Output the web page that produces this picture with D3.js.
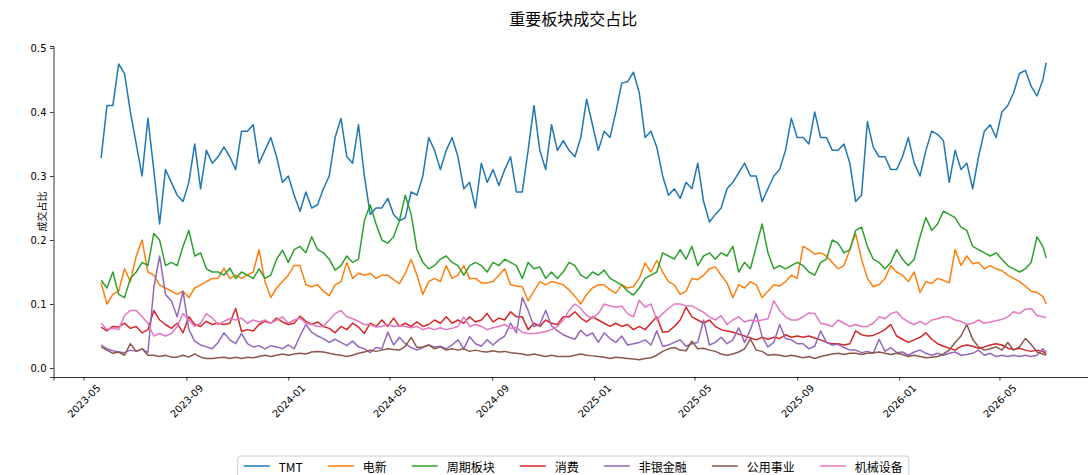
<!DOCTYPE html>
<html>
<head>
<meta charset="utf-8">
<script src="https://cdn.jsdelivr.net/npm/d3@7"></script>
<style>
  body { margin: 0; background: #fff; }
  text { font-family: "Noto Sans CJK SC", "DejaVu Sans", sans-serif; fill: #000; }
  .tick text { font-family: "DejaVu Sans", sans-serif; }
</style>
</head>
<body>
<div id="div_canvas"></div>
<script>
// weekly samples, 2023-05-22 .. 2026-06-26
var startDate = new Date(2023, 4, 22);
var lastDate = new Date(2026, 5, 26);

var names = ["TMT", "电新", "周期板块", "消费", "非银金融", "公用事业", "机械设备"];
var colors = ["#1f77b4", "#ff7f0e", "#2ca02c", "#d62728", "#9467bd", "#8c564b", "#e377c2"];

var tmt = [0.328,0.41,0.41,0.475,0.46,0.40,0.35,0.30,0.39,0.31,
  0.225,0.31,0.29,0.27,0.26,0.29,0.35,0.28,0.34,0.32,
  0.33,0.345,0.33,0.31,0.37,0.37,0.38,0.32,0.34,0.36,
  0.33,0.29,0.30,0.27,0.245,0.275,0.25,0.255,0.28,0.30,
  0.36,0.39,0.33,0.32,0.38,0.30,0.24,0.25,0.25,0.265,
  0.24,0.23,0.235,0.275,0.27,0.30,0.36,0.34,0.31,0.34,
  0.36,0.33,0.28,0.29,0.25,0.32,0.29,0.31,0.285,0.31,
  0.33,0.275,0.275,0.34,0.41,0.34,0.31,0.38,0.34,0.355,
  0.34,0.33,0.36,0.42,0.38,0.34,0.37,0.36,0.40,0.445,
  0.447,0.462,0.43,0.36,0.37,0.345,0.30,0.27,0.28,0.265,
  0.29,0.28,0.32,0.26,0.228,0.24,0.25,0.28,0.29,0.305,
  0.32,0.30,0.30,0.26,0.28,0.30,0.31,0.34,0.39,0.36,
  0.36,0.35,0.40,0.36,0.36,0.34,0.34,0.35,0.32,0.26,
  0.27,0.385,0.345,0.33,0.33,0.31,0.31,0.33,0.36,0.32,
  0.30,0.34,0.37,0.365,0.355,0.29,0.34,0.31,0.32,0.28,
  0.33,0.37,0.38,0.36,0.40,0.41,0.43,0.46,0.465,0.44,
  0.425,0.45,0.477];

var dianxin = [0.133,0.10,0.115,0.12,0.155,0.135,0.175,0.2,0.15,0.145,
  0.13,0.125,0.12,0.115,0.12,0.11,0.125,0.13,0.135,0.14,
  0.14,0.156,0.14,0.145,0.14,0.145,0.15,0.185,0.135,0.11,
  0.125,0.135,0.145,0.16,0.16,0.13,0.127,0.13,0.12,0.113,
  0.13,0.135,0.165,0.14,0.148,0.145,0.148,0.14,0.145,0.145,
  0.138,0.132,0.148,0.17,0.145,0.115,0.135,0.14,0.135,0.16,
  0.14,0.145,0.16,0.14,0.14,0.133,0.133,0.135,0.145,0.155,
  0.13,0.128,0.127,0.105,0.12,0.135,0.13,0.135,0.133,0.13,
  0.122,0.112,0.10,0.115,0.125,0.13,0.13,0.122,0.117,0.13,
  0.125,0.127,0.14,0.164,0.15,0.168,0.15,0.135,0.13,0.115,
  0.12,0.14,0.138,0.145,0.155,0.158,0.145,0.133,0.11,0.13,
  0.125,0.135,0.13,0.11,0.12,0.13,0.128,0.135,0.145,0.14,
  0.19,0.185,0.178,0.18,0.175,0.165,0.155,0.16,0.185,0.21,
  0.17,0.14,0.127,0.13,0.14,0.16,0.15,0.145,0.135,0.15,
  0.118,0.135,0.132,0.14,0.137,0.133,0.185,0.16,0.175,0.163,
  0.165,0.155,0.16,0.155,0.152,0.145,0.14,0.135,0.128,0.12,
  0.118,0.112,0.10];

var zhouqi = [0.137,0.125,0.15,0.115,0.11,0.14,0.15,0.165,0.16,0.21,
  0.20,0.16,0.165,0.16,0.19,0.215,0.175,0.18,0.155,0.15,
  0.15,0.145,0.156,0.14,0.15,0.145,0.14,0.155,0.14,0.145,
  0.17,0.184,0.165,0.185,0.19,0.18,0.205,0.185,0.18,0.17,
  0.153,0.16,0.175,0.165,0.17,0.23,0.255,0.225,0.2,0.195,
  0.205,0.23,0.27,0.24,0.185,0.165,0.155,0.16,0.17,0.175,
  0.165,0.16,0.145,0.16,0.165,0.16,0.15,0.165,0.16,0.17,
  0.165,0.16,0.14,0.165,0.155,0.158,0.14,0.15,0.14,0.15,
  0.165,0.16,0.145,0.14,0.15,0.145,0.153,0.14,0.135,0.13,
  0.12,0.114,0.125,0.14,0.145,0.15,0.18,0.175,0.17,0.185,
  0.17,0.19,0.16,0.175,0.18,0.17,0.18,0.175,0.19,0.15,
  0.165,0.155,0.19,0.225,0.18,0.155,0.16,0.155,0.16,0.165,
  0.16,0.15,0.145,0.165,0.17,0.2,0.195,0.18,0.185,0.215,
  0.22,0.19,0.17,0.165,0.155,0.165,0.185,0.17,0.16,0.17,
  0.205,0.235,0.215,0.225,0.245,0.24,0.235,0.22,0.215,0.19,
  0.185,0.18,0.175,0.18,0.17,0.16,0.155,0.15,0.155,0.165,
  0.205,0.19,0.172];

var xiaofei = [0.064,0.058,0.065,0.064,0.07,0.062,0.065,0.055,0.06,0.09,
  0.075,0.068,0.062,0.07,0.055,0.08,0.068,0.065,0.073,0.068,
  0.07,0.068,0.07,0.093,0.057,0.06,0.058,0.068,0.073,0.07,
  0.078,0.072,0.068,0.07,0.081,0.073,0.068,0.072,0.065,0.062,
  0.055,0.065,0.06,0.07,0.064,0.054,0.07,0.065,0.075,0.065,
  0.078,0.065,0.07,0.065,0.072,0.065,0.068,0.075,0.07,0.08,
  0.07,0.075,0.07,0.08,0.072,0.075,0.085,0.072,0.078,0.075,
  0.088,0.08,0.08,0.06,0.07,0.065,0.075,0.07,0.068,0.08,
  0.08,0.088,0.078,0.072,0.08,0.075,0.07,0.065,0.07,0.065,
  0.068,0.06,0.065,0.06,0.07,0.08,0.056,0.057,0.065,0.075,
  0.095,0.08,0.075,0.07,0.075,0.065,0.06,0.058,0.056,0.053,
  0.05,0.047,0.044,0.048,0.045,0.048,0.046,0.052,0.048,0.05,
  0.048,0.05,0.047,0.044,0.04,0.038,0.038,0.036,0.038,0.058,
  0.052,0.05,0.051,0.055,0.06,0.068,0.05,0.045,0.04,0.044,
  0.048,0.055,0.045,0.038,0.034,0.031,0.028,0.034,0.036,0.034,
  0.031,0.033,0.036,0.038,0.036,0.031,0.029,0.031,0.028,0.026,
  0.028,0.026,0.022];

var feiyin = [0.036,0.03,0.027,0.025,0.024,0.028,0.026,0.03,0.024,0.125,
  0.175,0.115,0.105,0.08,0.12,0.06,0.042,0.036,0.033,0.03,
  0.04,0.055,0.044,0.038,0.054,0.038,0.033,0.035,0.03,0.035,
  0.033,0.03,0.036,0.03,0.05,0.068,0.056,0.05,0.046,0.04,
  0.045,0.04,0.035,0.042,0.033,0.03,0.024,0.032,0.03,0.056,
  0.036,0.048,0.038,0.032,0.028,0.032,0.036,0.033,0.034,0.03,
  0.036,0.044,0.03,0.049,0.038,0.034,0.044,0.036,0.044,0.05,
  0.07,0.055,0.11,0.09,0.065,0.068,0.09,0.066,0.058,0.052,
  0.048,0.045,0.059,0.05,0.055,0.04,0.055,0.046,0.04,0.05,
  0.036,0.038,0.04,0.044,0.036,0.058,0.034,0.036,0.04,0.044,
  0.034,0.038,0.04,0.075,0.036,0.04,0.048,0.038,0.044,0.063,
  0.04,0.06,0.085,0.049,0.033,0.04,0.068,0.046,0.044,0.038,
  0.038,0.03,0.034,0.058,0.04,0.036,0.037,0.032,0.028,0.028,
  0.024,0.026,0.023,0.045,0.026,0.032,0.024,0.025,0.02,0.025,
  0.028,0.023,0.02,0.023,0.02,0.023,0.025,0.02,0.021,0.023,
  0.028,0.02,0.023,0.018,0.02,0.018,0.02,0.018,0.02,0.018,
  0.02,0.03,0.025];

var gongyong = [0.033,0.028,0.023,0.025,0.02,0.038,0.026,0.03,0.02,0.02,
  0.018,0.02,0.017,0.017,0.02,0.017,0.022,0.017,0.015,0.015,
  0.016,0.017,0.015,0.017,0.015,0.017,0.016,0.018,0.02,0.018,
  0.02,0.022,0.02,0.022,0.023,0.022,0.025,0.026,0.025,0.023,
  0.021,0.02,0.018,0.02,0.023,0.025,0.028,0.026,0.028,0.03,
  0.029,0.028,0.034,0.048,0.032,0.033,0.036,0.03,0.033,0.028,
  0.03,0.028,0.03,0.026,0.028,0.026,0.025,0.027,0.025,0.026,
  0.024,0.023,0.022,0.02,0.022,0.02,0.018,0.02,0.018,0.018,
  0.018,0.02,0.022,0.02,0.019,0.018,0.017,0.015,0.017,0.016,
  0.015,0.014,0.013,0.015,0.016,0.02,0.026,0.03,0.032,0.028,
  0.027,0.042,0.03,0.031,0.028,0.026,0.022,0.02,0.022,0.025,
  0.03,0.045,0.028,0.026,0.02,0.021,0.02,0.018,0.02,0.018,
  0.016,0.018,0.015,0.018,0.02,0.022,0.023,0.021,0.023,0.023,
  0.021,0.023,0.024,0.025,0.023,0.021,0.023,0.021,0.018,0.02,
  0.018,0.016,0.017,0.018,0.022,0.028,0.04,0.05,0.068,0.045,
  0.033,0.028,0.03,0.033,0.028,0.04,0.028,0.033,0.046,0.037,
  0.025,0.022,0.02];

var jixie = [0.07,0.06,0.062,0.06,0.082,0.09,0.09,0.08,0.07,0.05,
  0.054,0.05,0.054,0.065,0.085,0.075,0.065,0.07,0.085,0.078,
  0.068,0.073,0.077,0.075,0.078,0.07,0.075,0.072,0.075,0.07,
  0.075,0.08,0.07,0.075,0.078,0.07,0.068,0.065,0.065,0.075,
  0.085,0.09,0.08,0.077,0.073,0.068,0.068,0.064,0.065,0.068,
  0.065,0.066,0.065,0.063,0.065,0.06,0.063,0.06,0.063,0.06,
  0.062,0.065,0.08,0.065,0.068,0.065,0.06,0.063,0.065,0.068,
  0.062,0.063,0.056,0.054,0.054,0.055,0.057,0.06,0.065,0.075,
  0.09,0.1,0.093,0.082,0.078,0.085,0.1,0.097,0.095,0.097,
  0.085,0.08,0.106,0.095,0.1,0.075,0.085,0.093,0.1,0.1,
  0.097,0.097,0.092,0.087,0.08,0.075,0.082,0.068,0.075,0.08,
  0.072,0.075,0.073,0.075,0.077,0.105,0.09,0.08,0.075,0.075,
  0.08,0.086,0.085,0.07,0.068,0.065,0.075,0.07,0.065,0.068,
  0.065,0.065,0.07,0.08,0.077,0.085,0.088,0.078,0.072,0.068,
  0.073,0.068,0.075,0.077,0.08,0.08,0.075,0.073,0.068,0.07,
  0.075,0.07,0.072,0.074,0.076,0.08,0.088,0.085,0.092,0.093,
  0.082,0.08,0.079];

var yTicks = [0.0, 0.1, 0.2, 0.3, 0.4, 0.5];

var seriesValues = [tmt, dianxin, zhouqi, xiaofei, feiyin, gongyong, jixie];

var dates = d3.timeDay.range(startDate, new Date(2026, 5, 23), 7);
dates.push(lastDate);

var width = 1088, height = 475;
var plot = { left: 53.5, right: 1093, top: 46, bottom: 377 };

var svg = d3.select("#div_canvas").append("svg")
    .attr("width", width)
    .attr("height", height);

// Scales
var x = d3.scaleTime()
    .domain([new Date(2023, 2, 26), new Date(2026, 7, 21)])
    .range([plot.left, plot.right]);

var y = d3.scaleLinear()
    .domain([-0.014, 0.503])
    .range([plot.bottom, plot.top]);

// Lines
var line = d3.line()
    .x(function (d) { return x(d.date); })
    .y(function (d) { return y(d.value); });

seriesValues.forEach(function (vals, k) {
    var pts = vals.map(function (v, i) {
        return { date: dates[i], value: v };
    }).filter(function (d) { return d.date; });
    svg.append("path")
        .datum(pts)
        .attr("fill", "none")
        .attr("stroke", colors[k])
        .attr("stroke-width", 1.5)
        .attr("stroke-linejoin", "round")
        .attr("d", line);
});

// Axes
var xAxis = d3.axisBottom(x)
    .tickValues(d3.timeMonth.range(new Date(2023, 4, 1), new Date(2026, 5, 2), 4))
    .tickFormat(d3.timeFormat("%Y-%m"))
    .tickSizeOuter(0)
    .tickSize(3.5);

var gx = svg.append("g")
    .attr("transform", "translate(0," + plot.bottom + ")")
    .call(xAxis);
gx.selectAll("text")
    .attr("y", 0)
    .attr("dy", 0)
    .attr("text-anchor", "middle")
    .attr("dominant-baseline", "central")
    .attr("font-size", 10)
    .attr("transform", "translate(0,24) rotate(-45)");

var yAxis = d3.axisLeft(y)
    .tickValues(yTicks)
    .tickFormat(d3.format(".1f"))
    .tickSizeOuter(0)
    .tickSize(3.5);

var gy = svg.append("g")
    .attr("transform", "translate(" + plot.left + ",0)")
    .call(yAxis);
gy.selectAll("text")
    .attr("x", -7)
    .attr("font-size", 10);

svg.selectAll(".domain, .tick line")
    .attr("stroke", "#000")
    .attr("stroke-width", 0.8);

// Title and label
svg.append("text")
    .attr("x", (plot.left + plot.right) / 2)
    .attr("y", 18)
    .attr("text-anchor", "middle")
    .attr("dominant-baseline", "central")
    .attr("font-size", 16)
    .text("重要板块成交占比");

svg.append("text")
    .attr("transform", "translate(41," + (plot.top + plot.bottom) / 2 + ") rotate(-90)")
    .attr("text-anchor", "middle")
    .attr("dominant-baseline", "central")
    .attr("font-size", 10)
    .text("成交占比");

// Legend
var legend = svg.append("g");
var box = legend.append("rect")
    .attr("fill", "#fff")
    .attr("fill-opacity", 0.8)
    .attr("stroke", "#cccccc")
    .attr("stroke-width", 1)
    .attr("rx", 3);

var cx = 6;
names.forEach(function (name, k) {
    legend.append("line")
        .attr("x1", cx).attr("x2", cx + 26)
        .attr("y1", 10).attr("y2", 10)
        .attr("stroke", colors[k])
        .attr("stroke-width", 1.5);
    var t = legend.append("text")
        .attr("x", cx + 35)
        .attr("y", 10)
        .attr("dominant-baseline", "central")
        .attr("font-size", 12)
        .text(name);
    cx = cx + 35 + t.node().getComputedTextLength() + 25;
});
var legendW = cx - 25 + 6;
box.attr("x", 0).attr("y", 0).attr("width", legendW).attr("height", 28);
legend.attr("transform", "translate(" + ((plot.left + plot.right) / 2 - legendW / 2) + ",456)");
</script>
</body>
</html>
